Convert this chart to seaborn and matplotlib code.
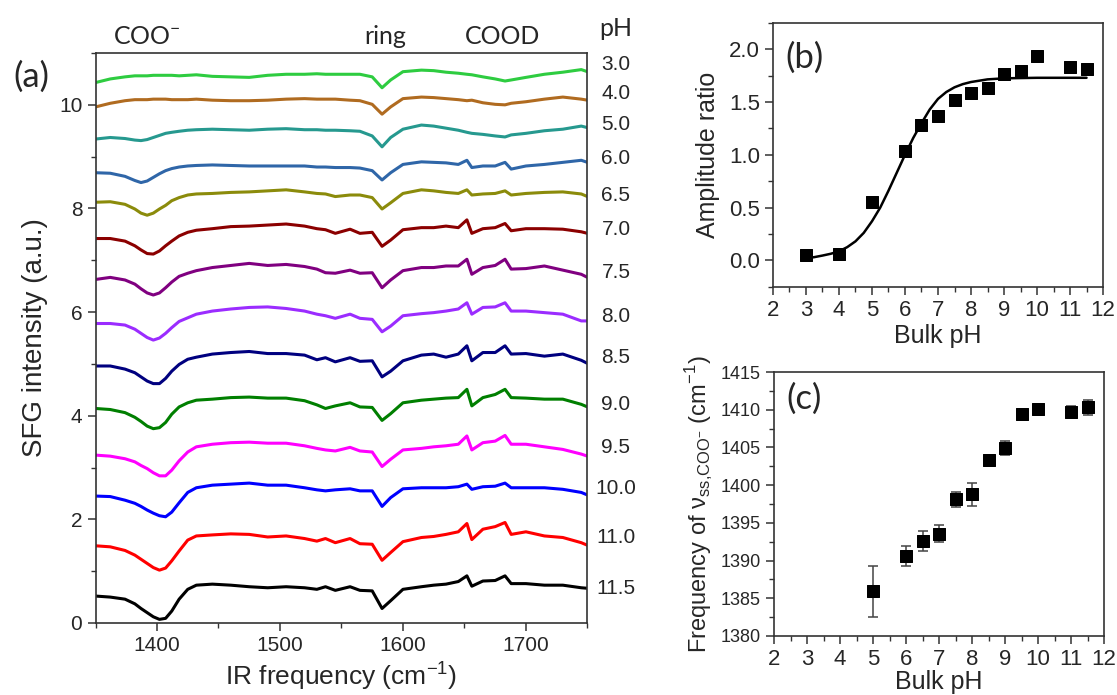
import numpy as np
import pandas as pd
import seaborn as sns
import matplotlib.pyplot as plt
from matplotlib.ticker import MultipleLocator

sns.set_style("ticks")
plt.rcParams["font.family"] = ["Liberation Sans", "DejaVu Sans"]

# ---- (a) SFG spectra, stacked ----
freq = [1350, 1362, 1374, 1382, 1387, 1392, 1397, 1402, 1407, 1412, 1418, 1425, 1432,
        1445, 1460, 1475, 1490, 1505, 1520, 1530, 1537, 1545, 1557, 1565, 1575,
        1583, 1590, 1600, 1615, 1625, 1635, 1645, 1652, 1656, 1665, 1675, 1683, 1688,
        1700, 1715, 1730, 1745, 1750]

sfg_ph30 = [10.43, 10.50, 10.54, 10.56, 10.56, 10.56, 10.57, 10.57, 10.57, 10.57, 10.56, 10.57, 10.58,
            10.55, 10.54, 10.53, 10.57, 10.59, 10.59, 10.60, 10.59, 10.59, 10.59, 10.59, 10.54,
            10.33, 10.48, 10.64, 10.67, 10.66, 10.63, 10.61, 10.59, 10.58, 10.54, 10.50, 10.46, 10.48,
            10.53, 10.59, 10.63, 10.68, 10.64]
sfg_ph40 = [9.96, 10.03, 10.08, 10.10, 10.10, 10.10, 10.11, 10.11, 10.11, 10.10, 10.10, 10.10, 10.11,
            10.09, 10.08, 10.08, 10.09, 10.11, 10.12, 10.11, 10.11, 10.11, 10.09, 10.08, 10.01,
            9.82, 9.96, 10.12, 10.15, 10.14, 10.12, 10.10, 10.08, 10.09, 10.04, 10.01, 10.00, 10.03,
            10.06, 10.11, 10.15, 10.11, 10.09]
sfg_ph50 = [9.34, 9.37, 9.35, 9.32, 9.31, 9.33, 9.37, 9.41, 9.45, 9.47, 9.49, 9.51, 9.52,
            9.53, 9.52, 9.51, 9.53, 9.54, 9.52, 9.52, 9.51, 9.51, 9.50, 9.49, 9.40,
            9.19, 9.37, 9.53, 9.61, 9.59, 9.55, 9.51, 9.47, 9.45, 9.43, 9.40, 9.38, 9.42,
            9.45, 9.50, 9.53, 9.59, 9.56]
sfg_ph60 = [8.69, 8.68, 8.62, 8.54, 8.50, 8.53, 8.60, 8.67, 8.73, 8.77, 8.80, 8.82, 8.83,
            8.84, 8.83, 8.82, 8.82, 8.82, 8.82, 8.80, 8.80, 8.79, 8.79, 8.78, 8.73,
            8.55, 8.69, 8.85, 8.90, 8.89, 8.88, 8.85, 8.93, 8.79, 8.82, 8.82, 8.89, 8.76,
            8.82, 8.85, 8.89, 8.93, 8.89]
sfg_ph65 = [8.12, 8.13, 8.08, 7.99, 7.91, 7.87, 7.91, 7.99, 8.06, 8.15, 8.21, 8.26, 8.28,
            8.29, 8.31, 8.32, 8.34, 8.36, 8.32, 8.29, 8.28, 8.23, 8.26, 8.26, 8.21,
            7.99, 8.11, 8.29, 8.36, 8.34, 8.31, 8.29, 8.36, 8.26, 8.28, 8.29, 8.34, 8.26,
            8.29, 8.31, 8.32, 8.28, 8.23]
sfg_ph70 = [7.42, 7.42, 7.37, 7.28, 7.20, 7.13, 7.12, 7.18, 7.28, 7.37, 7.47, 7.54, 7.58,
            7.61, 7.65, 7.66, 7.68, 7.70, 7.66, 7.61, 7.59, 7.52, 7.60, 7.52, 7.54,
            7.27, 7.39, 7.59, 7.63, 7.63, 7.66, 7.63, 7.78, 7.52, 7.61, 7.63, 7.71, 7.57,
            7.61, 7.61, 7.60, 7.55, 7.52]
sfg_ph75 = [6.63, 6.67, 6.62, 6.54, 6.45, 6.37, 6.33, 6.37, 6.47, 6.58, 6.69, 6.75, 6.80,
            6.86, 6.90, 6.94, 6.90, 6.92, 6.88, 6.83, 6.76, 6.75, 6.81, 6.75, 6.76,
            6.47, 6.62, 6.80, 6.86, 6.86, 6.89, 6.89, 7.02, 6.73, 6.86, 6.90, 7.02, 6.83,
            6.84, 6.89, 6.81, 6.73, 6.67]
sfg_ph80 = [5.78, 5.78, 5.75, 5.67, 5.59, 5.51, 5.46, 5.50, 5.59, 5.70, 5.82, 5.89, 5.96,
            6.02, 6.06, 6.09, 6.10, 6.07, 6.02, 5.96, 5.93, 5.88, 5.96, 5.88, 5.86,
            5.62, 5.73, 5.93, 5.97, 5.99, 6.02, 6.06, 6.18, 5.96, 6.09, 6.10, 6.18, 6.02,
            6.02, 5.99, 5.96, 5.83, 5.83]
sfg_ph85 = [4.96, 4.96, 4.90, 4.83, 4.75, 4.67, 4.62, 4.62, 4.72, 4.86, 4.99, 5.09, 5.13,
            5.19, 5.22, 5.24, 5.20, 5.20, 5.17, 5.08, 5.12, 5.04, 5.12, 5.05, 5.06,
            4.75, 4.86, 5.06, 5.17, 5.19, 5.13, 5.19, 5.35, 5.06, 5.22, 5.22, 5.35, 5.19,
            5.20, 5.15, 5.19, 5.07, 5.01]
sfg_ph90 = [4.14, 4.12, 4.06, 3.97, 3.89, 3.80, 3.75, 3.77, 3.87, 4.03, 4.17, 4.25, 4.30,
            4.32, 4.35, 4.36, 4.34, 4.34, 4.29, 4.21, 4.14, 4.19, 4.25, 4.17, 4.16,
            3.91, 4.04, 4.25, 4.30, 4.32, 4.34, 4.35, 4.51, 4.19, 4.35, 4.41, 4.51, 4.35,
            4.34, 4.32, 4.32, 4.22, 4.17]
sfg_ph95 = [3.24, 3.22, 3.17, 3.11, 3.04, 2.98, 2.90, 2.84, 2.84, 2.95, 3.13, 3.30, 3.40,
            3.45, 3.48, 3.49, 3.47, 3.47, 3.42, 3.37, 3.34, 3.32, 3.39, 3.32, 3.30,
            3.02, 3.16, 3.34, 3.37, 3.40, 3.42, 3.45, 3.61, 3.34, 3.48, 3.51, 3.62, 3.45,
            3.45, 3.40, 3.35, 3.26, 3.22]
sfg_ph100 = [2.45, 2.44, 2.37, 2.31, 2.25, 2.18, 2.12, 2.07, 2.05, 2.14, 2.32, 2.52, 2.61,
             2.66, 2.68, 2.70, 2.66, 2.66, 2.61, 2.57, 2.55, 2.57, 2.59, 2.55, 2.55,
             2.25, 2.42, 2.59, 2.61, 2.61, 2.61, 2.63, 2.68, 2.58, 2.63, 2.64, 2.70, 2.61,
             2.61, 2.61, 2.58, 2.52, 2.47]
sfg_ph110 = [1.49, 1.47, 1.40, 1.31, 1.23, 1.15, 1.07, 1.02, 1.06, 1.20, 1.39, 1.60, 1.68,
             1.70, 1.72, 1.71, 1.66, 1.68, 1.63, 1.58, 1.63, 1.55, 1.63, 1.53, 1.52,
             1.21, 1.36, 1.57, 1.65, 1.67, 1.71, 1.76, 1.92, 1.61, 1.81, 1.86, 1.94, 1.71,
             1.76, 1.68, 1.65, 1.55, 1.50]
sfg_ph115 = [0.52, 0.50, 0.46, 0.37, 0.28, 0.20, 0.12, 0.07, 0.09, 0.23, 0.46, 0.65, 0.73,
             0.75, 0.73, 0.70, 0.68, 0.70, 0.68, 0.65, 0.70, 0.63, 0.70, 0.63, 0.62,
             0.28, 0.43, 0.65, 0.70, 0.73, 0.75, 0.80, 0.91, 0.71, 0.81, 0.82, 0.91, 0.76,
             0.76, 0.73, 0.73, 0.68, 0.67]

spectra = [sfg_ph30, sfg_ph40, sfg_ph50, sfg_ph60, sfg_ph65, sfg_ph70, sfg_ph75,
           sfg_ph80, sfg_ph85, sfg_ph90, sfg_ph95, sfg_ph100, sfg_ph110, sfg_ph115]
ph_labels = ["3.0", "4.0", "5.0", "6.0", "6.5", "7.0", "7.5", "8.0", "8.5", "9.0",
             "9.5", "10.0", "11.0", "11.5"]
colors = ["#2ecc40", "#b06b20", "#26998f", "#2f66a8", "#8b8b0b", "#8b0000", "#800080",
          "#9b2cff", "#00007f", "#007f00", "#ff00ff", "#0000ff", "#ff0000", "#000000"]
label_y = [10.78, 10.22, 9.62, 8.96, 8.25, 7.60, 6.77, 5.92, 5.13, 4.21, 3.38, 2.60, 1.65, 0.67]

# ---- (b) amplitude ratio vs bulk pH ----
ph_b = [3, 4, 5, 6, 6.5, 7, 7.5, 8, 8.5, 9, 9.5, 10, 11, 11.5]
ratio_b = [0.05, 0.06, 0.55, 1.04, 1.28, 1.37, 1.52, 1.59, 1.63, 1.77, 1.79, 1.94, 1.83, 1.81]
fit_ph = [3.0, 3.25, 3.5, 3.75, 4.0, 4.25, 4.5, 4.75, 5.0, 5.25, 5.5, 5.75, 6.0, 6.25,
          6.5, 6.75, 7.0, 7.25, 7.5, 7.75, 8.0, 8.5, 9.0, 10.0, 11.5]
fit_ratio = [0.02, 0.03, 0.045, 0.062, 0.085, 0.125, 0.18, 0.26, 0.37, 0.50, 0.66, 0.83,
             1.00, 1.16, 1.30, 1.43, 1.53, 1.595, 1.64, 1.67, 1.69, 1.715, 1.725, 1.73, 1.73]

# ---- (c) COO- frequency vs bulk pH ----
ph_c = [5, 6, 6.5, 7, 7.5, 8, 8.5, 9, 9.5, 10, 11, 11.5]
nu_c = [1385.9, 1390.6, 1392.6, 1393.55, 1398.1, 1398.8, 1403.4, 1404.9, 1409.4,
        1410.05, 1409.65, 1410.3]
err_c = [3.4, 1.3, 1.3, 1.15, 1.0, 1.55, 0.3, 0.9, 0.3, 0.4, 0.8, 0.95]

fig = plt.figure(figsize=(11.17, 6.95), dpi=100)
ax_a = fig.add_axes([0.0855, 0.1036, 0.4404, 0.8201])
ax_b = fig.add_axes([0.692, 0.5875, 0.2955, 0.3795])
ax_c = fig.add_axes([0.693, 0.0849, 0.2955, 0.3798])

for vals, col in zip(spectra, colors):
    sns.lineplot(x=freq, y=vals, color=col, lw=2.2, ax=ax_a)

ax_a.set_xlim(1350, 1750)
ax_a.set_ylim(0, 11)
ax_a.xaxis.set_major_locator(MultipleLocator(100))
ax_a.xaxis.set_minor_locator(MultipleLocator(50))
ax_a.yaxis.set_major_locator(MultipleLocator(2))
ax_a.yaxis.set_minor_locator(MultipleLocator(1))
ax_a.set_xlabel("IR frequency (cm$^{\\mathregular{-1}}$)", fontsize=19, labelpad=3)
ax_a.set_ylabel("SFG intensity (a.u.)", fontsize=20, labelpad=8)
ax_a.tick_params(labelsize=15)

for lab, yv in zip(ph_labels, label_y):
    ax_a.text(1.058, yv, lab, transform=ax_a.get_yaxis_transform(), ha="center",
              va="center", fontsize=15, clip_on=False)

# (b)
sns.lineplot(x=fit_ph, y=fit_ratio, color="black", lw=1.8, ax=ax_b)
sns.scatterplot(x=ph_b, y=ratio_b, marker="s", color="black", s=80, edgecolor="black", ax=ax_b, zorder=3)
ax_b.set_xlim(2, 12)
ax_b.set_ylim(-0.25, 2.25)
ax_b.xaxis.set_major_locator(MultipleLocator(1))
ax_b.xaxis.set_minor_locator(MultipleLocator(0.5))
ax_b.yaxis.set_major_locator(MultipleLocator(0.5))
ax_b.yaxis.set_minor_locator(MultipleLocator(0.25))
ax_b.set_xlabel("Bulk pH", fontsize=18, labelpad=2)
ax_b.set_ylabel("Amplitude ratio", fontsize=18, labelpad=6)
ax_b.tick_params(labelsize=16)

# (c)
ax_c.errorbar(ph_c, nu_c, yerr=err_c, fmt="none", ecolor="#444444", elinewidth=1.1,
              capsize=3.5, capthick=1.1, zorder=2)
sns.scatterplot(x=ph_c, y=nu_c, marker="s", color="black", s=80, edgecolor="black", ax=ax_c, zorder=3)
ax_c.set_xlim(2, 12)
ax_c.set_ylim(1380, 1415)
ax_c.xaxis.set_major_locator(MultipleLocator(1))
ax_c.xaxis.set_minor_locator(MultipleLocator(0.5))
ax_c.yaxis.set_major_locator(MultipleLocator(5))
ax_c.yaxis.set_minor_locator(MultipleLocator(2.5))
ax_c.set_xlabel("Bulk pH", fontsize=18, labelpad=0)
ax_c.set_ylabel("Frequency of ν$_{\\mathregular{ss{,}COO^{-}}}$ (cm$^{\\mathregular{-1}}$)",
                fontsize=17, labelpad=4)
ax_c.tick_params(axis="x", labelsize=16)
ax_c.tick_params(axis="y", labelsize=13)

for ax in (ax_a, ax_b, ax_c):
    for sp in ax.spines.values():
        sp.set_visible(True)
        sp.set_linewidth(1.2)
        sp.set_color("#333333")
    ax.tick_params(which="both", direction="out", top=False, right=False, color="#333333")
    ax.tick_params(which="major", length=6, width=1.1)
    ax.tick_params(which="minor", length=3.5, width=1.0)

lab_font = ["Lato", "DejaVu Sans"]
fig.text(0.1316, 0.9468, "COO$^{\\mathregular{-}}$", family=lab_font, fontsize=18, ha="center", va="center")
fig.text(0.3447, 0.9468, "ring", family=lab_font, fontsize=18, ha="center", va="center")
fig.text(0.4503, 0.9468, "COOD", family=lab_font, fontsize=18, ha="center", va="center")
fig.text(0.5515, 0.9597, "pH", family=lab_font, fontsize=18, ha="center", va="center")
fig.text(0.0278, 0.8892, "(a)", family=lab_font, fontsize=25, ha="center", va="center")
fig.text(0.7198, 0.9173, "(b)", family=lab_font, fontsize=25, ha="center", va="center")
fig.text(0.7198, 0.4259, "(c)", family=lab_font, fontsize=25, ha="center", va="center")

fig.savefig("out.png", dpi=100)
